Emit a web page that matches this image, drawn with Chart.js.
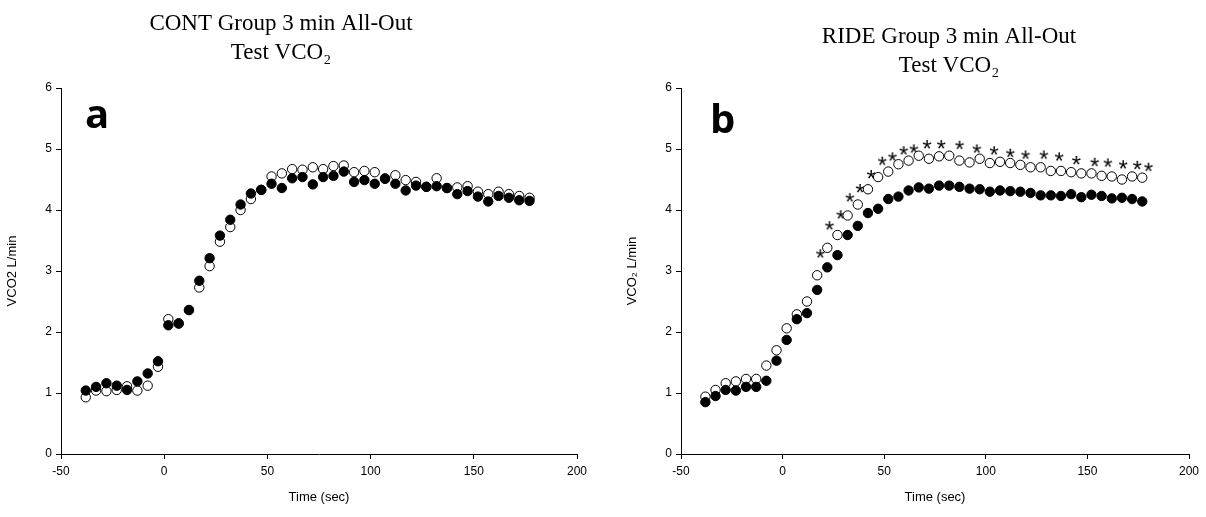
<!DOCTYPE html>
<html>
<head>
<meta charset="utf-8">
<script src="https://cdn.jsdelivr.net/npm/chart.js@4.4.1/dist/chart.umd.min.js"></script>
<style>
  html, body { margin: 0; padding: 0; background: #fff; }
  .panel { position: absolute; top: 0; width: 603px; height: 517px; }
</style>
</head>
<body>
<div class="panel" style="left:0"><canvas id="contChart"></canvas></div>
<div class="panel" style="left:603px"><canvas id="rideChart"></canvas></div>
<script>
// time of each 5 s bin (sec)
var timeSec = [-38, -33, -28, -23, -18, -13, -8, -3, 2, 7, 12, 17, 22, 27, 32, 37, 42, 47, 52, 57, 62, 67,
               72, 77, 82, 87, 92, 97, 102, 107, 112, 117, 122, 127, 132, 137, 142, 147, 152, 157, 162, 167, 172, 177];

// CONT group
var contFilled = [1.04, 1.10, 1.16, 1.12, 1.05, 1.19, 1.32, 1.52, 2.11, 2.14, 2.36, 2.84, 3.21, 3.58, 3.84, 4.09, 4.27,
                  4.33, 4.43, 4.36, 4.52, 4.54, 4.42, 4.54, 4.56, 4.63, 4.46, 4.49, 4.43, 4.51, 4.43, 4.32, 4.40, 4.38,
                  4.39, 4.36, 4.26, 4.31, 4.22, 4.14, 4.23, 4.20, 4.16, 4.15];
var contOpen = [0.93, 1.04, 1.03, 1.05, 1.11, 1.04, 1.12, 1.43, 2.21, 2.14, 2.36, 2.73, 3.08, 3.48, 3.72, 4.00, 4.18,
                4.33, 4.55, 4.60, 4.67, 4.66, 4.70, 4.67, 4.72, 4.73, 4.62, 4.64, 4.62, 4.52, 4.57, 4.49, 4.46, 4.38,
                4.52, 4.36, 4.37, 4.39, 4.30, 4.26, 4.30, 4.26, 4.23, 4.20];

// RIDE group
var rideFilled = [0.85, 0.95, 1.05, 1.04, 1.10, 1.10, 1.20, 1.53, 1.87, 2.21, 2.31, 2.69, 3.06, 3.26, 3.59, 3.74, 3.95,
                  4.02, 4.18, 4.22, 4.32, 4.37, 4.35, 4.40, 4.40, 4.38, 4.35, 4.34, 4.30, 4.32, 4.31, 4.30, 4.28, 4.24,
                  4.24, 4.23, 4.26, 4.21, 4.25, 4.23, 4.19, 4.20, 4.18, 4.14];
var rideOpen = [0.94, 1.05, 1.16, 1.19, 1.23, 1.23, 1.45, 1.70, 2.06, 2.29, 2.50, 2.93, 3.38, 3.59, 3.91, 4.09, 4.34,
                4.54, 4.63, 4.75, 4.81, 4.89, 4.84, 4.88, 4.89, 4.81, 4.78, 4.84, 4.77, 4.79, 4.77, 4.74, 4.70, 4.70,
                4.64, 4.64, 4.62, 4.60, 4.60, 4.56, 4.55, 4.50, 4.55, 4.53];

// significance markers (*)
var starTime = [18.5, 23, 28.5, 33, 38, 43.5, 49, 54, 59.5, 64.5, 71, 78, 87, 95.5, 104, 112, 119.5, 128.5, 136,
                144.5, 153.5, 160, 167.5, 174.5, 180];
var starValue = [3.29, 3.75, 3.93, 4.21, 4.36, 4.59, 4.81, 4.88, 4.98, 5.01, 5.08, 5.08, 5.07, 5.01, 4.98, 4.94, 4.91,
                 4.91, 4.88, 4.82, 4.79, 4.78, 4.75, 4.74, 4.71];

var xTicks = [-50, 0, 50, 100, 150, 200];
var yTicks = [0, 1, 2, 3, 4, 5, 6];

function toPoints(xs, ys) {
    return xs.map((x, i) => ({ x: x, y: ys[i] }));
}

// small canvas with a "*" glyph, used as point style
function makeStar() {
    var c = document.createElement('canvas');
    c.width = 16;
    c.height = 16;
    var ctx = c.getContext('2d');
    ctx.font = '24px "Liberation Sans", Arial, sans-serif';
    ctx.fillStyle = '#000';
    var m = ctx.measureText('*');
    var w = m.actualBoundingBoxLeft + m.actualBoundingBoxRight;
    var h = m.actualBoundingBoxAscent + m.actualBoundingBoxDescent;
    ctx.fillText('*', (16 - w) / 2 + m.actualBoundingBoxLeft, (16 - h) / 2 + m.actualBoundingBoxAscent);
    return c;
}

// two-line serif title and the bold panel letter
var panelText = {
    id: 'panelText',
    afterDraw(chart, args, opts) {
        var ctx = chart.ctx;
        ctx.save();
        ctx.fillStyle = '#000';
        ctx.textBaseline = 'alphabetic';
        ctx.textAlign = 'center';
        ctx.font = '23px "Liberation Serif", "Times New Roman", serif';
        opts.title.forEach((line, i) => ctx.fillText(line, opts.titleX, opts.titleY[i]));
        ctx.textAlign = 'left';
        ctx.font = 'bold 40px "Open Sans", "Liberation Sans", sans-serif';
        ctx.fillText(opts.letter, chart.chartArea.left + opts.letterDx, chart.chartArea.top + opts.letterDy);
        ctx.restore();
    }
};

function renderChart(canvasId, cfg) {
    var tickFont = { family: '"Liberation Sans", Arial, sans-serif', size: 12 };
    var canvas = document.getElementById(canvasId);
    canvas.width = 603;
    canvas.height = 517;
    var datasets = [{
        data: toPoints(timeSec, cfg.filled),
        backgroundColor: '#000',
        borderColor: '#000',
        borderWidth: 1,
        pointRadius: 4.7
    }, {
        data: toPoints(timeSec, cfg.open),
        backgroundColor: '#fff',
        borderColor: '#000',
        borderWidth: 1,
        pointRadius: 4.7
    }];
    if (cfg.stars) {
        datasets.push({
            data: toPoints(cfg.stars.t, cfg.stars.v),
            pointStyle: makeStar(),
            pointRadius: 6
        });
    }
    return new Chart(canvas.getContext('2d'), {
        type: 'scatter',
        data: { datasets: datasets },
        options: {
            responsive: false,
            animation: false,
            layout: { padding: { left: cfg.padLeft, right: cfg.padRight, top: 88, bottom: 12 } },
            plugins: {
                legend: { display: false },
                tooltip: { enabled: false },
                title: { display: false },
                panelText: {
                    title: cfg.title,
                    titleX: cfg.titleX,
                    titleY: cfg.titleY,
                    letter: cfg.letter,
                    letterDx: cfg.letterDx,
                    letterDy: cfg.letterDy
                }
            },
            scales: {
                x: {
                    type: 'linear',
                    min: xTicks[0],
                    max: xTicks[xTicks.length - 1],
                    afterBuildTicks: s => { s.ticks = xTicks.map(v => ({ value: v })); },
                    afterFit: s => { s.height = 51; },
                    grid: { drawOnChartArea: false, drawTicks: true, tickLength: 5, color: '#000' },
                    border: { color: '#000', width: 1 },
                    ticks: { color: '#000', font: tickFont, padding: 5, maxRotation: 0 },
                    title: { display: true, text: 'Time (sec)', color: '#000', font: { family: tickFont.family, size: 13 }, padding: { top: 4, bottom: 0 } }
                },
                y: {
                    min: yTicks[0],
                    max: yTicks[yTicks.length - 1],
                    afterBuildTicks: s => { s.ticks = yTicks.map(v => ({ value: v })); },
                    afterFit: s => { s.width = cfg.yWidth; },
                    grid: { drawOnChartArea: false, drawTicks: true, tickLength: 5, color: '#000' },
                    border: { color: '#000', width: 1 },
                    ticks: { color: '#000', font: tickFont, padding: 4 },
                    title: { display: true, text: cfg.yTitle, color: '#000', font: { family: tickFont.family, size: 13 }, padding: { top: 0, bottom: 4 } }
                }
            }
        },
        plugins: [panelText]
    });
}

renderChart('contChart', {
    title: ['CONT Group 3 min All-Out', 'Test VCO\u2082'],
    titleX: 281,
    titleY: [30, 59],
    yTitle: 'VCO2 L/min',
    filled: contFilled,
    open: contOpen,
    padLeft: 5,
    yWidth: 56,
    padRight: 26,
    letter: 'a',
    letterDx: 24,
    letterDy: 40
});

renderChart('rideChart', {
    title: ['RIDE Group 3 min All-Out', 'Test VCO\u2082'],
    titleX: 346,
    titleY: [43, 72],
    yTitle: 'VCO\u2082 L/min',
    filled: rideFilled,
    open: rideOpen,
    stars: { t: starTime, v: starValue },
    padLeft: 22,
    yWidth: 56,
    padRight: 17,
    letter: 'b',
    letterDx: 29,
    letterDy: 45
});
</script>
</body>
</html>
